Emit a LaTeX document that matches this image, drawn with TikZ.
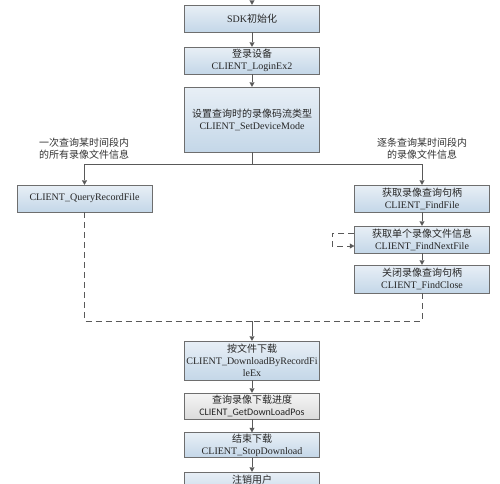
\documentclass[tikz,border=0pt]{standalone}
\usepackage{fontspec}
\setmainfont{Liberation Serif}
\newfontfamily\cjk{Noto Sans CJK SC}
\newfontfamily\calibri{Carlito}
\definecolor{flowline}{RGB}{89,89,89}
\definecolor{boxedge}{RGB}{110,110,110}
\definecolor{boxtop}{RGB}{232,239,246}
\definecolor{boxbottom}{RGB}{196,215,232}
\usetikzlibrary{arrows.meta,positioning,calc}
\tikzset{
    flowbox/.style={draw=boxedge, top color=boxtop, bottom color=boxbottom, minimum width=135pt, inner sep=1pt, align=center, font=\fontsize{10}{12}\selectfont, text=black!85},
    flowarrow/.style={draw=flowline, -{Triangle[length=4.5pt,width=5pt]}},
    flowdash/.style={draw=flowline, dash pattern=on 6pt off 4pt}
}

\begin{document}
\begin{tikzpicture}[x=1pt, y=-1pt]
    \path[use as bounding box] (0,0) rectangle (500,483);
    \clip (0,0) rectangle (500,483);
    \node[flowbox, minimum height=27pt] (sdk) at (252,18.5) {SDK{\cjk 初始化}};
    \node[flowbox, minimum height=27pt] (login) at (252,60.5) {{\cjk 登录设备}\\CLIENT\_LoginEx2};
    \node[flowbox, minimum height=65pt] (mode) at (252,119.5) {{\cjk 设置查询时的录像码流类型}\\CLIENT\_SetDeviceMode};
    \node[flowbox, minimum height=27pt] (query) at (84.5,198.5) {CLIENT\_QueryRecordFile};
    \node[flowbox, minimum height=27pt] (findfile) at (422,198.5) {{\cjk 获取录像查询句柄}\\CLIENT\_FindFile};
    \node[flowbox, minimum height=27pt] (findnext) at (422,239.5) {{\cjk 获取单个录像文件信息}\\CLIENT\_FindNextFile};
    \node[flowbox, minimum height=28pt] (findclose) at (422,279) {{\cjk 关闭录像查询句柄}\\CLIENT\_FindClose};
    \node[flowbox, minimum height=39pt] (download) at (252,360.5) {{\cjk 按文件下载}\\CLIENT\_DownloadByRecordFi\\leEx};
    \node[flowbox, minimum height=26pt, top color=gray!8, bottom color=gray!28] (getpos) at (252,406) {{\cjk 查询录像下载进度}\\{\calibri CLIENT\_GetDownLoadPos}};
    \node[flowbox, minimum height=25pt] (stop) at (252,445) {{\cjk 结束下载}\\CLIENT\_StopDownload};
    \node[flowbox, minimum height=26pt] (logout) at (252,485) {{\cjk 注销用户}\\\mbox{}};
    \node[align=center, font=\fontsize{10}{12}\selectfont\cjk, text=black!80] (onceinfo) at (84,149) {一次查询某时间段内\\的所有录像文件信息};
    \node[align=center, font=\fontsize{10}{12}\selectfont\cjk, text=black!80] (stepinfo) at (422,149) {逐条查询某时间段内\\的录像文件信息};
    \coordinate (start) at (252,-2);
    \coordinate (split) at (252,164);
    \coordinate (join) at (252,321);
    \draw[flowarrow] (start) -- (sdk);
    \draw[flowarrow] (sdk) -- (login);
    \draw[flowarrow] (login) -- (mode);
    \draw[draw=flowline] (mode) -- (split);
    \draw[flowarrow] (split) -| (query);
    \draw[flowarrow] (split) -| (findfile);
    \draw[flowarrow] (findfile) -- (findnext);
    \draw[flowarrow] (findnext) -- (findclose);
    \draw[flowdash, -{Triangle[length=4.5pt,width=5pt]}] ([yshift=6.5pt]findnext.west) -- ++(-22,0) |- ([yshift=-6.5pt]findnext.west);
    \draw[flowdash] (query) |- (join);
    \draw[flowdash] (findclose) |- (join);
    \draw[flowarrow] (join) -- (download);
    \draw[flowarrow] (download) -- (getpos);
    \draw[flowarrow] (getpos) -- (stop);
    \draw[flowarrow] (stop) -- (logout);
\end{tikzpicture}
\end{document}
